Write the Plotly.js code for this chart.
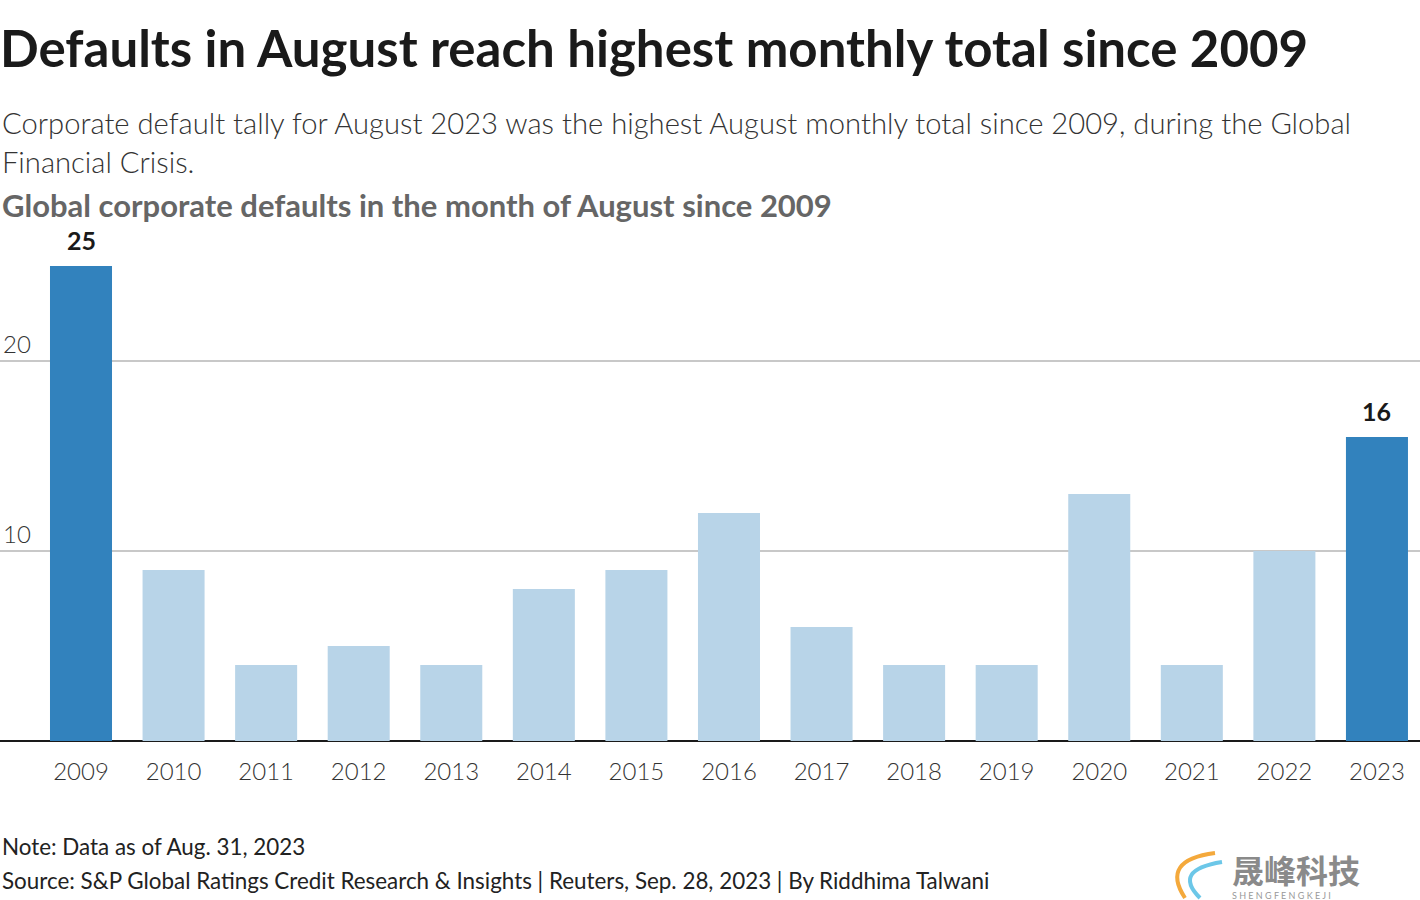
<!DOCTYPE html>
<html>
<head>
<meta charset="utf-8">
<script src="https://cdn.plot.ly/plotly-3.0.1.min.js"></script>
<style>
html,body{margin:0;padding:0;background:#fff;}
#chart{width:1420px;height:900px;}
</style>
</head>
<body>
<div id="chart"></div>
<script>
const years = ["2009","2010","2011","2012","2013","2014","2015","2016","2017","2018","2019","2020","2021","2022","2023"];
const defaults = [25, 9, 4, 5, 4, 8, 9, 12, 6, 4, 4, 13, 4, 10, 16];
const highlighted = ["2009", "2023"];
const yTicks = [10, 20];

const titleText = "Defaults in August reach highest monthly total since 2009";
const subtitle1 = "Corporate default tally for August 2023 was the highest August monthly total since 2009, during the Global";
const subtitle2 = "Financial Crisis.";
const chartLabel = "Global corporate defaults in the month of August since 2009";
const noteText = "Note: Data as of Aug. 31, 2023";
const sourceText = "Source: S&P Global Ratings Credit Research & Insights | Reuters, Sep. 28, 2023 | By Riddhima Talwani";

const DARK = "#3282bd";
const LIGHT = "#b8d4e8";
const FONT = "Lato, 'Noto Sans', sans-serif";

const colors = years.map(y => highlighted.includes(y) ? DARK : LIGHT);

const trace = {
  type: "bar",
  x: years,
  y: defaults,
  marker: {color: colors, line: {width: 0}},
  width: 0.67,
  cliponaxis: false,
  hoverinfo: "x+y"
};

const H = 900, plotTop = 247, plotBottom = 741;
const ph = plotBottom - plotTop;
const py = p => (plotBottom - p) / ph;

const valueLabels = [];
years.forEach((yr, i) => {
  if (highlighted.includes(yr)) {
    valueLabels.push({
      text: "<b>" + defaults[i] + "</b>", x: i, xref: "x", y: defaults[i], yref: "y",
      yanchor: "bottom", yshift: 9, showarrow: false,
      font: {family: FONT, size: 25, color: "#1a1a1a"}
    });
  }
});

const layout = {
  width: 1420,
  height: H,
  margin: {l: 0, r: 0, t: plotTop, b: H - plotBottom, pad: 0},
  paper_bgcolor: "#fff",
  plot_bgcolor: "#fff",
  showlegend: false,
  title: {
    text: "<b>" + titleText + "</b>",
    x: 0, xref: "paper", xanchor: "left",
    y: 1 - 49 / H, yref: "container", yanchor: "middle",
    font: {family: FONT, size: 51, color: "#1a1a1a"}
  },
  xaxis: {
    type: "category",
    range: [-0.875, 14.465],
    showgrid: false,
    showline: false,
    zeroline: false,
    ticks: "",
    ticklabelstandoff: 14,
    tickfont: {family: FONT, size: 24, color: "#333", weight: 300},
    fixedrange: true
  },
  yaxis: {
    range: [0, 26],
    tickvals: yTicks,
    ticktext: yTicks.map(String),
    ticklabelposition: "inside top",
    showgrid: true,
    gridcolor: "#c8c8c8",
    gridwidth: 2,
    zeroline: true,
    zerolinecolor: "#1a1a1a",
    zerolinewidth: 2,
    showline: false,
    ticks: "",
    tickfont: {family: FONT, size: 24, color: "#333", weight: 300},
    fixedrange: true
  },
  annotations: valueLabels.concat([
    {text: subtitle1, x: 0, xref: "paper", xanchor: "left", y: py(122), yref: "paper", yanchor: "middle", showarrow: false,
     font: {family: FONT, size: 29.2, color: "#333", weight: 300}},
    {text: subtitle2, x: 0, xref: "paper", xanchor: "left", y: py(161), yref: "paper", yanchor: "middle", showarrow: false,
     font: {family: FONT, size: 29.2, color: "#333", weight: 300}},
    {text: "<b>" + chartLabel + "</b>", x: 0, xref: "paper", xanchor: "left", y: py(205), yref: "paper", yanchor: "middle", showarrow: false,
     font: {family: FONT, size: 31, color: "#666"}},
    {text: noteText, x: 0, xref: "paper", xanchor: "left", y: py(846), yref: "paper", yanchor: "middle", showarrow: false,
     font: {family: FONT, size: 22.4, color: "#222"}},
    {text: sourceText, x: 0, xref: "paper", xanchor: "left", y: py(880), yref: "paper", yanchor: "middle", showarrow: false,
     font: {family: FONT, size: 22.4, color: "#222"}},
    {text: "<b>晟峰科技</b>", x: 1230 / 1420, xref: "paper", xanchor: "left", y: py(869), yref: "paper", yanchor: "middle", showarrow: false,
     font: {family: "'Noto Sans CJK SC', sans-serif", size: 32, color: "#8a8a8a"}},
    {text: "S H E N G F E N G K E J I", x: 1230 / 1420, xref: "paper", xanchor: "left", y: py(895), yref: "paper", yanchor: "middle", showarrow: false,
     font: {family: FONT, size: 9, color: "#999"}}
  ]),
  shapes: [
    {type: "path", xref: "paper", yref: "paper",
     path: "M " + (1215/1420) + "," + py(853) + " Q " + (1160/1420) + "," + py(860) + " " + (1185/1420) + "," + py(898),
     line: {color: "#f4a93c", width: 4}},
    {type: "path", xref: "paper", yref: "paper",
     path: "M " + (1222/1420) + "," + py(862) + " Q " + (1172/1420) + "," + py(870) + " " + (1200/1420) + "," + py(898),
     line: {color: "#6cc7e8", width: 4}}
  ]
};

Plotly.newPlot("chart", [trace], layout, {displayModeBar: false, staticPlot: true});
</script>
</body>
</html>
